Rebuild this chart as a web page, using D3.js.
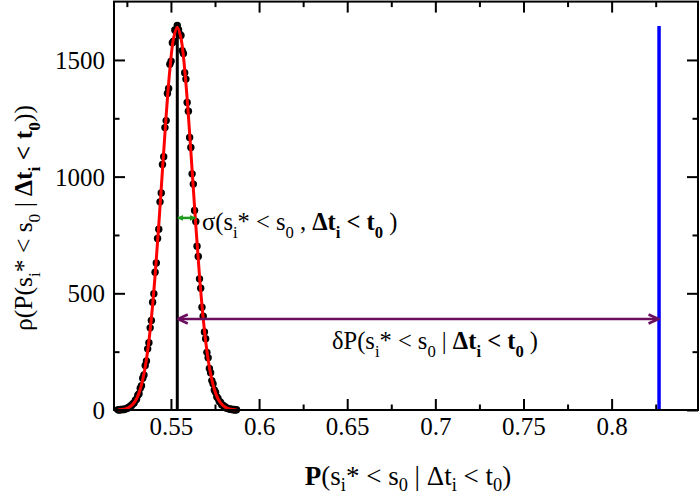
<!DOCTYPE html>
<html>
<head>
<meta charset="utf-8">
<script src="https://cdn.jsdelivr.net/npm/d3@7"></script>
<style>
  body { margin: 0; background: #fff; }
  svg { display: block; }
  text { font-family: "Liberation Serif", "Times New Roman", serif; white-space: pre; }
</style>
</head>
<body>
<div id="chart"></div>
<script>
// histogram points (black dots)
const probX = [0.5200, 0.5207, 0.5214, 0.5221, 0.5228, 0.5235, 0.5242, 0.5249, 0.5256, 0.5263,
  0.5270, 0.5277, 0.5284, 0.5291, 0.5298, 0.5305, 0.5312, 0.5319, 0.5326, 0.5333,
  0.5340, 0.5347, 0.5354, 0.5361, 0.5368, 0.5375, 0.5382, 0.5389, 0.5396, 0.5403,
  0.5410, 0.5417, 0.5424, 0.5431, 0.5438, 0.5445, 0.5452, 0.5459, 0.5466, 0.5473,
  0.5480, 0.5487, 0.5494, 0.5501, 0.5508, 0.5515, 0.5522, 0.5529, 0.5536, 0.5543,
  0.5550, 0.5557, 0.5564, 0.5571, 0.5578, 0.5585, 0.5592, 0.5599, 0.5606, 0.5613,
  0.5620, 0.5627, 0.5634, 0.5641, 0.5648, 0.5655, 0.5662, 0.5669, 0.5676, 0.5683,
  0.5690, 0.5697, 0.5704, 0.5711, 0.5718, 0.5725, 0.5732, 0.5739, 0.5746, 0.5753,
  0.5760, 0.5767, 0.5774, 0.5781, 0.5788, 0.5795, 0.5802, 0.5809, 0.5816, 0.5823,
  0.5830, 0.5837, 0.5844, 0.5851, 0.5858, 0.5865, 0.5872]
const density = [1, 0, 2, 1, 3, 2, 5, 6, 10, 11,
  17, 19, 27, 30, 42, 46, 63, 70, 93, 104,
  136, 150, 191, 210, 262, 288, 352, 384, 462, 498,
  590, 630, 735, 775, 892, 930, 1052, 1085, 1210, 1240,
  1356, 1378, 1482, 1495, 1574, 1580, 1628, 1622, 1648, 1630,
  1610, 1605, 1540, 1528, 1445, 1418, 1318, 1280, 1168, 1125,
  1012, 968, 855, 808, 702, 658, 562, 522, 440, 402,
  334, 305, 247, 224, 178, 160, 126, 112, 86, 76,
  57, 50, 37, 33, 23, 21, 14, 13, 8, 6,
  5, 3, 3, 1, 2, 0, 1]

// gaussian fit (red line)
const fitX = [0.5200, 0.5221, 0.5242, 0.5263, 0.5284, 0.5305, 0.5326, 0.5347, 0.5368, 0.5389,
  0.5410, 0.5431, 0.5452, 0.5473, 0.5494, 0.5515, 0.5536, 0.5557, 0.5578, 0.5599,
  0.5620, 0.5641, 0.5662, 0.5683, 0.5704, 0.5725, 0.5746, 0.5767, 0.5788, 0.5809,
  0.5830, 0.5851, 0.5872]
const fitY = [1, 2, 5, 12, 25, 48, 89, 155, 254, 393,
  575, 792, 1029, 1262, 1460, 1593, 1640, 1593, 1460, 1262,
  1029, 792, 575, 393, 254, 155, 89, 48, 25, 12,
  5, 2, 1]

const meanP = 0.5536      // black vertical line
const refP = 0.8269       // blue vertical line
const peakHeight = 1645
const halfMax = 823
const halfMaxRight = 0.5638
const deltaLevel = 390

const xMajor = [0.55, 0.6, 0.65, 0.7, 0.75, 0.8]
const xMinor = [0.525, 0.575, 0.625, 0.675, 0.725, 0.775, 0.825]
const yMajor = [0, 500, 1000, 1500]
const yMinor = [250, 750, 1250]

const sigmaLabel = [['σ('], ['s'], ['i', 's'], ['* < s'], ['0', 's'], [' , '], ['Δt', 'b'], ['i', 'bs'], [' < t', 'b'], ['0', 'bs'], [' )']]
const deltaLabel = [['δP(s'], ['i', 's'], ['* < s'], ['0', 's'], [' | '], ['Δt', 'b'], ['i', 'bs'], [' < t', 'b'], ['0', 'bs'], [' )']]
const xLabel = [['P', 'b'], ['(s'], ['i', 's'], ['* < s'], ['0', 's'], [' | Δt'], ['i', 's'], [' < t'], ['0', 's'], [')']]
const yLabel = [['ρ(P(s'], ['i', 's'], ['* < s'], ['0', 's'], [' | '], ['Δt', 'b'], ['i', 'bs'], [' < t', 'b'], ['0', 'bs'], ['))']]

const W = 700, H = 495
const mLeft = 114, mRight = 698, mTop = 1.6, mBottom = 410

const x = d3.scaleLinear().domain([0.5177, 0.849]).range([mLeft, mRight])
const y = d3.scaleLinear().domain([0, 1750]).range([mBottom, mTop])

const svg = d3.select('#chart').append('svg')
    .attr('width', W).attr('height', H)

// rich text with bold / subscript pieces
function rich(g, parts, fs, shift = 0.32) {
    const t = g.append('text').attr('font-size', fs).attr('fill', '#000')
    let cur = 0
    parts.forEach(p => {
        const st = p[1] || ''
        const sub = st.includes('s')
        const target = sub ? fs * shift : 0
        t.append('tspan')
            .attr('dy', target - cur)
            .attr('font-size', sub ? fs * 0.68 : fs)
            .attr('font-weight', st.includes('b') ? 'bold' : 'normal')
            .text(p[0])
        cur = target
    })
    return t
}

// axes, ticks pointing inward
function ticks(axis, vals, size, tr, labels) {
    const g = svg.append('g').attr('transform', tr)
        .call(axis.tickValues(vals).tickSize(-size).tickFormat(labels ? d3.format('') : ''))
    g.select('.domain').remove()
    g.selectAll('.tick line').attr('stroke', '#000').attr('stroke-width', 2)
    return g
}

const gx = ticks(d3.axisBottom(x), xMajor, 11, `translate(0,${mBottom})`, true)
gx.selectAll('text').attr('y', 25).attr('dy', null)
    .attr('font-size', 25).attr('fill', '#000')
    .style('font-family', '"Liberation Serif", serif')
ticks(d3.axisBottom(x), xMinor, 5.5, `translate(0,${mBottom})`, false)
ticks(d3.axisTop(x), xMajor, 11, `translate(0,${mTop})`, false)
ticks(d3.axisTop(x), xMinor, 5.5, `translate(0,${mTop})`, false)

const gy = ticks(d3.axisLeft(y), yMajor, 11, `translate(${mLeft},0)`, true)
gy.selectAll('text').attr('x', -9).attr('dy', '0.34em')
    .attr('font-size', 25).attr('fill', '#000')
    .style('font-family', '"Liberation Serif", serif')
ticks(d3.axisLeft(y), yMinor, 5.5, `translate(${mLeft},0)`, false)
ticks(d3.axisRight(y), yMajor, 11, `translate(${mRight},0)`, false)
ticks(d3.axisRight(y), yMinor, 5.5, `translate(${mRight},0)`, false)

// data
const plot = svg.append('g')

plot.append('line')
    .attr('x1', x(meanP)).attr('x2', x(meanP))
    .attr('y1', y(0)).attr('y2', y(1640))
    .attr('stroke', '#000').attr('stroke-width', 3)

plot.append('line')
    .attr('x1', x(refP)).attr('x2', x(refP))
    .attr('y1', y(0)).attr('y2', y(peakHeight))
    .attr('stroke', '#0000ff').attr('stroke-width', 3.5)

plot.selectAll('circle.pt')
    .data(probX.map((d, i) => [d, density[i]]))
    .join('circle')
    .attr('class', 'pt')
    .attr('cx', d => x(d[0]))
    .attr('cy', d => y(d[1]))
    .attr('r', 3.7)
    .attr('fill', '#000')

const line = d3.line()
    .x(d => x(d[0])).y(d => y(d[1]))
    .curve(d3.curveCatmullRom)

plot.append('path')
    .datum(fitX.map((d, i) => [d, fitY[i]]))
    .attr('d', line)
    .attr('fill', 'none')
    .attr('stroke', '#ff0000')
    .attr('stroke-width', 3)

// arrows
const defs = svg.append('defs')
defs.append('marker')
    .attr('id', 'headG').attr('viewBox', '0 0 10 10')
    .attr('refX', 9).attr('refY', 5)
    .attr('markerWidth', 6).attr('markerHeight', 6)
    .attr('markerUnits', 'userSpaceOnUse')
    .attr('orient', 'auto-start-reverse')
    .append('path').attr('d', 'M0,0L10,5L0,10Z').attr('fill', '#1f9a1f')
defs.append('marker')
    .attr('id', 'headP').attr('viewBox', '0 0 12 12')
    .attr('refX', 11).attr('refY', 6)
    .attr('markerWidth', 12).attr('markerHeight', 12)
    .attr('markerUnits', 'userSpaceOnUse')
    .attr('orient', 'auto-start-reverse')
    .append('path').attr('d', 'M1,1.5L11,6L1,10.5')
    .attr('fill', 'none').attr('stroke', '#6b0d5e').attr('stroke-width', 2.5)

svg.append('line')
    .attr('x1', x(meanP) + 0.5).attr('x2', x(halfMaxRight))
    .attr('y1', y(halfMax)).attr('y2', y(halfMax))
    .attr('stroke', '#1f9a1f').attr('stroke-width', 2.5)
    .attr('marker-start', 'url(#headG)').attr('marker-end', 'url(#headG)')

svg.append('line')
    .attr('x1', x(meanP) + 0.5).attr('x2', x(refP) - 0.5)
    .attr('y1', y(deltaLevel)).attr('y2', y(deltaLevel))
    .attr('stroke', '#6b0d5e').attr('stroke-width', 2.5)
    .attr('marker-start', 'url(#headP)').attr('marker-end', 'url(#headP)')

// frame
svg.append('rect')
    .attr('x', mLeft).attr('y', mTop)
    .attr('width', mRight - mLeft).attr('height', mBottom - mTop)
    .attr('fill', 'none').attr('stroke', '#000').attr('stroke-width', 2)

// labels
rich(svg, sigmaLabel, 24.5).attr('x', 202).attr('y', 230)
rich(svg, deltaLabel, 24.5).attr('x', 332).attr('y', 349)
rich(svg, xLabel, 27, 0.24).attr('x', 408).attr('y', 485).attr('text-anchor', 'middle')
rich(svg.append('g').attr('transform', 'translate(32,218) rotate(-90)'), yLabel, 25.5)
    .attr('x', 0).attr('y', 0).attr('text-anchor', 'middle')
</script>
</body>
</html>
